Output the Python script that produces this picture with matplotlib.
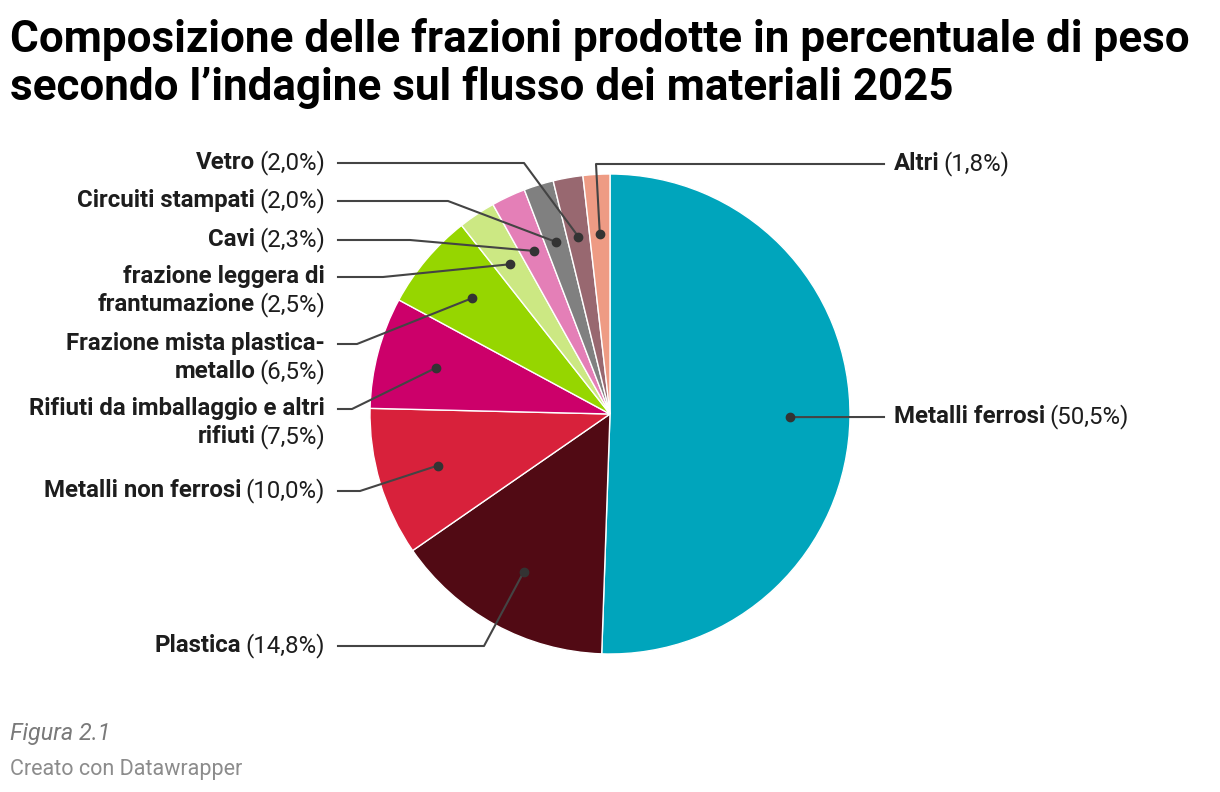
import numpy as np
import matplotlib
matplotlib.use("Agg")
import matplotlib.pyplot as plt

# data (clockwise from the top)
categories = ["Metalli ferrosi", "Plastica", "Metalli non ferrosi",
              "Rifiuti da imballaggio e altri\nrifiuti",
              "Frazione mista plastica-\nmetallo",
              "frazione leggera di\nfrantumazione",
              "Cavi", "Circuiti stampati", "Vetro", "Altri"]
shares = [50.5, 14.8, 10.0, 7.5, 6.5, 2.5, 2.3, 2.0, 2.0, 1.8]
colors = ["#00a5bc", "#510a14", "#d8213b", "#cc006a", "#96d600",
          "#cce883", "#e47fb7", "#808080", "#986870", "#ee9b84"]

# label layout in pixels: side, y of first line, elbow x of leader
label_side = ["r", "l", "l", "l", "l", "l", "l", "l", "l", "r"]
label_y = [417, 646, 491, 409, 344, 277, 240, 201, 163, 164]
elbow_x = [None, 484, 360, 352, 357, 383, 410, 448, 524, 596]

W, H = 1220, 792
fig = plt.figure(figsize=(W / 100, H / 100), dpi=100)
ax = fig.add_axes([0, 0, 1, 1])

cx, cy, R = 610, 414, 240
wedges, _ = ax.pie(shares, colors=colors, startangle=-90, counterclock=True,
                   center=(cx, cy), radius=R,
                   wedgeprops=dict(edgecolor="white", linewidth=1))
ax.set_xlim(0, W)
ax.set_ylim(H, 0)
ax.set_aspect("auto")
ax.axis("off")

fam = "Roboto"
fs = 17.3
line_h = 28
dark = "#1d1d1d"
lc = "#444444"
gap = 4
renderer = fig.canvas.get_renderer()


def width_of(t):
    bb = t.get_window_extent(renderer=renderer)
    return bb.width


# title, fitted to the width of the reference
title_lines = ["Composizione delle frazioni prodotte in percentuale di peso",
               "secondo l\u2019indagine sul flusso dei materiali 2025"]
t1 = ax.text(10, 52, title_lines[0], fontsize=28, fontweight="bold",
             family=fam, color="black", va="baseline")
scale = 1177 / width_of(t1)
t1.set_fontsize(28 * scale)
ax.text(10, 100, title_lines[1], fontsize=28 * scale, fontweight="bold",
        family=fam, color="black", va="baseline")

total = sum(shares)
cum = np.cumsum([0] + shares)
for i, name in enumerate(categories):
    mid = (cum[i] + cum[i + 1]) / 2 / total * 360
    dx = cx + 0.75 * R * np.sin(np.deg2rad(mid))
    dy = cy - 0.75 * R * np.cos(np.deg2rad(mid))
    ax.plot(dx, dy, "o", color="#333333", ms=6, zorder=5)

    y = label_y[i]
    lines = name.split("\n")
    pct = "(" + f"{shares[i]:.1f}".replace(".", ",") + "%)"
    if label_side[i] == "l":
        ex = elbow_x[i]
        ax.plot([338, ex, dx], [y, y, dy], color=lc, lw=1.5, zorder=4)
        for k, ln in enumerate(lines[:-1]):
            ax.text(325, y + 6 + k * line_h, ln, fontsize=fs, fontweight="bold",
                    family=fam, color=dark, ha="right", va="baseline")
        yl = y + 6 + (len(lines) - 1) * line_h
        tr = ax.text(325, yl, pct, fontsize=fs, family=fam, color=dark,
                     ha="right", va="baseline")
        x0 = 325 - width_of(tr) - gap
        ax.text(x0, yl, lines[-1], fontsize=fs, fontweight="bold",
                family=fam, color=dark, ha="right", va="baseline")
    else:
        if elbow_x[i] is None:
            ax.plot([dx, 884], [dy, y], color=lc, lw=1.5, zorder=4)
        else:
            ax.plot([dx, elbow_x[i], 884], [dy, y, y], color=lc, lw=1.5, zorder=4)
        tb = ax.text(894, y + 6, name, fontsize=fs, fontweight="bold",
                     family=fam, color=dark, ha="left", va="baseline")
        ax.text(894 + width_of(tb) + gap, y + 6, pct, fontsize=fs, family=fam,
                color=dark, ha="left", va="baseline")

ax.text(10, 740, "Figura 2.1", fontsize=16.8, style="italic", family=fam,
        color="#7a7a7a", va="baseline")
ax.text(10, 775, "Creato con Datawrapper", fontsize=15.5, family=fam,
        color="#8c8c8c", va="baseline")

fig.savefig("out.png", dpi=100)
